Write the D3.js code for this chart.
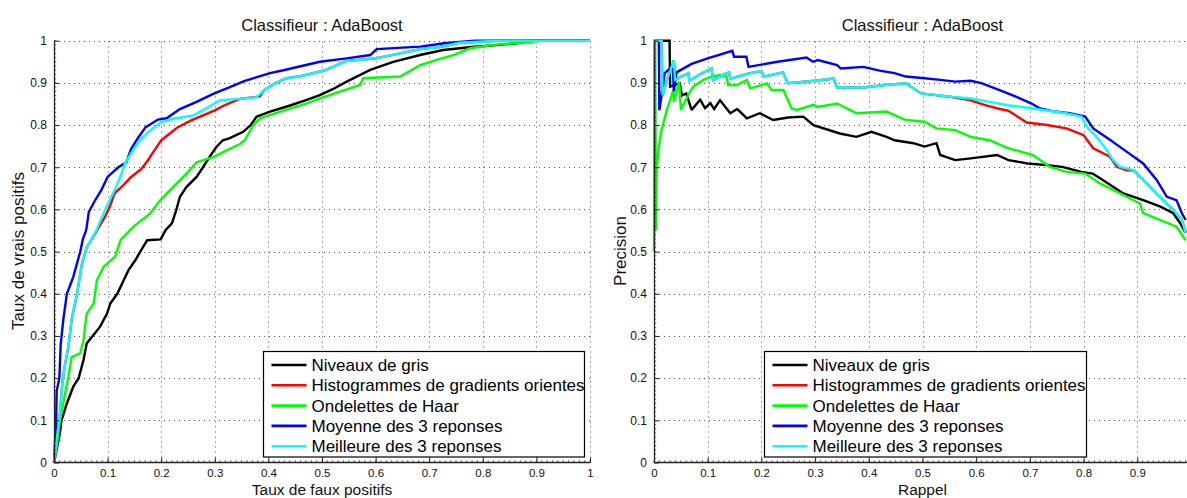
<!DOCTYPE html>
<html><head><meta charset="utf-8">
<script src="https://cdn.jsdelivr.net/npm/d3@7"></script>
<style>
body{margin:0;background:#fff;}
svg{display:block;font-family:"Liberation Sans",Arial,sans-serif;}
</style></head><body>
<svg id="chart" width="1187" height="498"></svg>
<script>
// ---------- DATA ----------
const seriesNames = ["Niveaux de gris","Histogrammes de gradients orientes","Ondelettes de Haar","Moyenne des 3 reponses","Meilleure des 3 reponses"];
const seriesColors = ["#000000","#ff0000","#00ff00","#0000ff","#00ffff"];
const xTicksLeft = [0,0.1,0.2,0.3,0.4,0.5,0.6,0.7,0.8,0.9,1];
const xTicksRight = [0,0.1,0.2,0.3,0.4,0.5,0.6,0.7,0.8,0.9];
const yTicks = [0,0.1,0.2,0.3,0.4,0.5,0.6,0.7,0.8,0.9,1];
const plotTitle = "Classifieur : AdaBoost";

// ROC curves (x: taux de faux positifs, y: taux de vrais positifs)
const rocGris = [[0,0],[0.011,0.069],[0.014,0.1],[0.024,0.14],[0.036,0.18],[0.046,0.2],[0.055,0.243],[0.061,0.282],[0.086,0.322],[0.099,0.353],[0.105,0.377],[0.118,0.4],[0.13,0.432],[0.139,0.456],[0.152,0.48],[0.161,0.5],[0.174,0.527],[0.199,0.529],[0.208,0.551],[0.22,0.567],[0.228,0.598],[0.235,0.63],[0.247,0.653],[0.266,0.677],[0.278,0.7],[0.29,0.724],[0.303,0.748],[0.315,0.764],[0.328,0.769],[0.353,0.784],[0.367,0.8],[0.378,0.82],[0.403,0.832],[0.442,0.847],[0.47,0.859],[0.496,0.871],[0.52,0.885],[0.546,0.903],[0.59,0.931],[0.633,0.95],[0.683,0.966],[0.726,0.978],[0.78,0.985],[0.83,0.99],[0.863,0.994],[0.894,1],[1,1]];
const rocHog = [[0,0],[0.005,0.053],[0.011,0.116],[0.016,0.195],[0.021,0.235],[0.027,0.275],[0.033,0.34],[0.043,0.4],[0.052,0.47],[0.061,0.51],[0.08,0.55],[0.095,0.582],[0.104,0.606],[0.113,0.638],[0.129,0.657],[0.144,0.677],[0.163,0.696],[0.175,0.716],[0.185,0.736],[0.2,0.764],[0.216,0.78],[0.231,0.795],[0.256,0.811],[0.278,0.823],[0.3,0.835],[0.318,0.847],[0.347,0.862],[0.384,0.868],[0.392,0.883],[0.414,0.9],[0.434,0.911],[0.464,0.917],[0.506,0.93],[0.546,0.952],[0.6,0.958],[0.646,0.97],[0.683,0.98],[0.72,0.985],[0.756,0.995],[0.83,1],[1,1]];
const rocHaar = [[0,0],[0.005,0.037],[0.011,0.1],[0.021,0.164],[0.027,0.203],[0.033,0.25],[0.049,0.259],[0.055,0.29],[0.061,0.353],[0.074,0.377],[0.08,0.432],[0.0925,0.464],[0.114,0.488],[0.124,0.527],[0.149,0.56],[0.179,0.59],[0.197,0.62],[0.222,0.653],[0.247,0.685],[0.266,0.712],[0.297,0.724],[0.322,0.74],[0.347,0.755],[0.356,0.764],[0.372,0.8],[0.384,0.816],[0.422,0.832],[0.47,0.851],[0.5,0.865],[0.542,0.883],[0.571,0.895],[0.577,0.911],[0.646,0.915],[0.683,0.942],[0.72,0.957],[0.745,0.966],[0.776,0.982],[0.82,0.99],[0.894,0.998],[0.91,1],[1,1]];
const rocMoyenne = [[0,0],[0.002,0.05],[0.004,0.1],[0.005,0.17],[0.01,0.2],[0.0125,0.28],[0.0175,0.34],[0.024,0.4],[0.036,0.44],[0.049,0.5],[0.054,0.53],[0.06,0.55],[0.065,0.594],[0.076,0.62],[0.088,0.645],[0.1,0.677],[0.12,0.7],[0.135,0.712],[0.144,0.744],[0.157,0.77],[0.171,0.795],[0.194,0.813],[0.21,0.816],[0.235,0.838],[0.266,0.855],[0.297,0.874],[0.328,0.89],[0.356,0.905],[0.403,0.923],[0.428,0.93],[0.496,0.95],[0.546,0.958],[0.59,0.966],[0.602,0.98],[0.683,0.986],[0.728,0.994],[0.785,1],[1,1]];
const rocMeilleure = [[0,0],[0.005,0.053],[0.011,0.116],[0.016,0.195],[0.021,0.235],[0.027,0.275],[0.033,0.34],[0.043,0.4],[0.052,0.47],[0.061,0.51],[0.079,0.55],[0.095,0.598],[0.107,0.63],[0.116,0.653],[0.126,0.685],[0.132,0.708],[0.147,0.74],[0.16,0.764],[0.179,0.787],[0.2,0.807],[0.222,0.815],[0.26,0.823],[0.284,0.84],[0.31,0.859],[0.347,0.862],[0.378,0.866],[0.392,0.883],[0.414,0.9],[0.434,0.911],[0.464,0.917],[0.506,0.93],[0.546,0.952],[0.6,0.958],[0.646,0.97],[0.683,0.98],[0.72,0.985],[0.756,0.995],[0.83,1],[1,1]];

// Precision / rappel curves (x: rappel, y: precision)
const prGris = [[0.003,1.0],[0.029,1.0],[0.03,0.891],[0.048,0.899],[0.052,0.87],[0.06,0.875],[0.07,0.836],[0.086,0.86],[0.095,0.84],[0.105,0.852],[0.112,0.838],[0.123,0.859],[0.142,0.828],[0.155,0.838],[0.173,0.816],[0.197,0.828],[0.222,0.812],[0.25,0.818],[0.278,0.82],[0.297,0.8],[0.346,0.78],[0.377,0.772],[0.405,0.784],[0.433,0.772],[0.448,0.764],[0.483,0.757],[0.504,0.749],[0.526,0.757],[0.533,0.729],[0.561,0.717],[0.59,0.721],[0.639,0.729],[0.66,0.717],[0.696,0.709],[0.732,0.705],[0.76,0.701],[0.796,0.689],[0.817,0.685],[0.845,0.662],[0.874,0.638],[0.911,0.622],[0.942,0.607],[0.967,0.591],[0.98,0.567],[0.99,0.545]];
const prHog = [[0.001,1.0],[0.014,1.0],[0.016,0.87],[0.025,0.91],[0.037,0.953],[0.039,0.907],[0.05,0.915],[0.064,0.923],[0.066,0.905],[0.085,0.92],[0.107,0.934],[0.11,0.907],[0.13,0.92],[0.14,0.925],[0.142,0.91],[0.175,0.922],[0.2,0.928],[0.205,0.915],[0.24,0.925],[0.249,0.899],[0.3,0.905],[0.334,0.91],[0.341,0.889],[0.39,0.889],[0.43,0.895],[0.469,0.899],[0.497,0.875],[0.551,0.867],[0.588,0.859],[0.62,0.846],[0.644,0.838],[0.66,0.834],[0.694,0.806],[0.732,0.8],[0.768,0.792],[0.8,0.776],[0.818,0.745],[0.849,0.725],[0.862,0.701],[0.88,0.693],[0.893,0.693],[0.917,0.662],[0.948,0.622],[0.967,0.599],[0.983,0.575],[0.99,0.545]];
const prHaar = [[0,0.5],[0.001,1.0],[0.002,1.0],[0.003,0.75],[0.0035,0.55],[0.005,0.69],[0.008,0.74],[0.014,0.788],[0.024,0.836],[0.036,0.883],[0.037,0.855],[0.047,0.903],[0.05,0.836],[0.067,0.879],[0.073,0.891],[0.092,0.907],[0.107,0.915],[0.123,0.919],[0.135,0.915],[0.138,0.895],[0.154,0.895],[0.173,0.907],[0.179,0.887],[0.21,0.899],[0.219,0.883],[0.241,0.883],[0.256,0.84],[0.266,0.836],[0.297,0.848],[0.305,0.843],[0.341,0.851],[0.377,0.828],[0.433,0.832],[0.469,0.812],[0.504,0.808],[0.526,0.792],[0.561,0.788],[0.59,0.772],[0.625,0.764],[0.66,0.745],[0.706,0.729],[0.737,0.701],[0.768,0.689],[0.803,0.685],[0.83,0.662],[0.862,0.642],[0.905,0.614],[0.911,0.591],[0.942,0.575],[0.973,0.559],[0.99,0.527]];
const prMoyenne = [[0.001,1.0],[0.009,1.0],[0.01,0.835],[0.02,0.923],[0.035,0.94],[0.037,0.88],[0.042,0.925],[0.07,0.945],[0.1,0.958],[0.146,0.976],[0.149,0.962],[0.172,0.962],[0.176,0.938],[0.23,0.95],[0.284,0.96],[0.296,0.95],[0.305,0.954],[0.341,0.942],[0.348,0.934],[0.39,0.938],[0.42,0.929],[0.448,0.923],[0.469,0.915],[0.504,0.911],[0.533,0.907],[0.561,0.903],[0.59,0.905],[0.611,0.899],[0.647,0.881],[0.675,0.867],[0.703,0.851],[0.718,0.84],[0.746,0.832],[0.774,0.828],[0.803,0.82],[0.818,0.792],[0.849,0.765],[0.88,0.737],[0.911,0.709],[0.936,0.67],[0.955,0.63],[0.973,0.622],[0.983,0.591],[0.99,0.575]];
const prMeilleure = [[0.001,1.0],[0.014,1.0],[0.016,0.87],[0.025,0.91],[0.037,0.953],[0.039,0.907],[0.05,0.915],[0.064,0.923],[0.066,0.905],[0.085,0.92],[0.107,0.934],[0.11,0.907],[0.13,0.92],[0.14,0.925],[0.142,0.91],[0.175,0.922],[0.2,0.928],[0.205,0.915],[0.24,0.925],[0.249,0.899],[0.3,0.905],[0.334,0.91],[0.341,0.889],[0.39,0.889],[0.43,0.895],[0.469,0.899],[0.497,0.875],[0.554,0.867],[0.59,0.863],[0.625,0.855],[0.66,0.847],[0.703,0.84],[0.767,0.828],[0.796,0.82],[0.806,0.796],[0.824,0.772],[0.838,0.75],[0.855,0.717],[0.868,0.701],[0.893,0.693],[0.917,0.662],[0.948,0.622],[0.967,0.599],[0.983,0.575],[0.99,0.545]];

// ---------- DRAW ----------
const svg = d3.select("#chart");
const FONT = "Liberation Sans, Arial, sans-serif";

function drawPanel(cfg){
  const x = d3.scaleLinear().domain([0,1]).range([cfg.x0, cfg.x1]);
  const y = d3.scaleLinear().domain([0,1]).range([462.5, 40.7]);
  const g = svg.append("g");
  const clipId = "clip"+cfg.id;
  svg.append("clipPath").attr("id",clipId).append("rect")
    .attr("x",cfg.x0-2).attr("y",36).attr("width",cfg.x1-cfg.x0+4).attr("height",430);

  const xr = x.range();
  // grid
  const grid = g.append("g").attr("stroke","#555").attr("stroke-width",1).attr("stroke-dasharray","1,4");
  grid.selectAll("line.v").data(cfg.xTicks.filter(d=>d>0)).join("line")
    .attr("x1",d=>Math.round(x(d))+0.5).attr("x2",d=>Math.round(x(d))+0.5)
    .attr("y1",y(0)).attr("y2",y(1));
  grid.selectAll("line.h").data(yTicks.filter(d=>d>0)).join("line")
    .attr("x1",xr[0]).attr("x2",xr[1])
    .attr("y1",d=>Math.round(y(d))+0.5).attr("y2",d=>Math.round(y(d))+0.5);

  // curves
  const line = d3.line().x(d=>x(d[0])).y(d=>y(d[1]));
  const cg = g.append("g").attr("clip-path",`url(#${clipId})`);
  cfg.series.forEach((s,i)=>{
    cg.append("path").datum(s).attr("d",line).attr("fill","none")
      .attr("stroke",seriesColors[i]).attr("stroke-width",2.4)
      .attr("stroke-linejoin","miter").attr("stroke-miterlimit",2);
  });

  // axes
  const minor = d3.range(0,101).map(d=>d/100);
  const xAxis = d3.axisBottom(x).tickValues(cfg.xTicks).tickFormat(d3.format("")).tickSizeInner(-5).tickSizeOuter(0).tickPadding(6.5);
  const ax = g.append("g").attr("transform",`translate(0,${y(0)})`).call(xAxis);
  ax.select(".domain").attr("stroke","#222").attr("stroke-width",1.3).attr("d",`M${xr[0]},0H${Math.min(xr[1],1187)}`);
  ax.selectAll(".tick line").attr("stroke","#222");
  ax.selectAll("text").attr("font-size",11.5).attr("fill","#111").attr("font-family",FONT);
  g.append("g").selectAll("line").data(minor).join("line")
    .attr("x1",d=>x(d)).attr("x2",d=>x(d)).attr("y1",y(0)).attr("y2",y(0)-2.2)
    .attr("stroke","#333").attr("stroke-width",0.8);

  const yAxis = d3.axisLeft(y).tickValues(yTicks).tickFormat(d3.format("")).tickSizeInner(-5).tickSizeOuter(0).tickPadding(7);
  const ay = g.append("g").attr("transform",`translate(${xr[0]},0)`).call(yAxis);
  ay.select(".domain").attr("stroke","#222").attr("stroke-width",1.3);
  ay.selectAll(".tick line").attr("stroke","#222");
  ay.selectAll("text").attr("font-size",12).attr("fill","#111").attr("font-family",FONT);
  g.append("g").selectAll("line").data(minor).join("line")
    .attr("x1",xr[0]).attr("x2",xr[0]+2.2).attr("y1",d=>y(d)).attr("y2",d=>y(d))
    .attr("stroke","#333").attr("stroke-width",0.8);

  // title and labels
  const cx = (cfg.x0 + cfg.x1)/2;
  svg.append("text").attr("x",cx).attr("y",31).attr("text-anchor","middle")
    .attr("font-size",16.5).attr("fill","#111").text(plotTitle);
  svg.append("text").attr("x",cx).attr("y",494.5).attr("text-anchor","middle")
    .attr("font-size",15.5).attr("fill","#111").text(cfg.xLabel);
  svg.append("text").attr("transform",`translate(${cfg.yLabelX},251) rotate(-90)`).attr("text-anchor","middle")
    .attr("font-size",17).attr("fill","#111").text(cfg.yLabel);

  // legend
  const L = cfg.legend;
  const lg = svg.append("g");
  lg.append("rect").attr("x",L.x).attr("y",351.5).attr("width",L.w).attr("height",105.5)
    .attr("fill","#fff").attr("stroke","#000").attr("stroke-width",1.2);
  seriesNames.forEach((n,i)=>{
    const yy = 365 + i*20.3;
    lg.append("line").attr("x1",L.x+8).attr("x2",L.x+43).attr("y1",yy).attr("y2",yy)
      .attr("stroke",seriesColors[i]).attr("stroke-width",2.6);
    lg.append("text").attr("x",L.x+48).attr("y",yy+6).attr("font-size",17)
      .attr("fill","#000").text(n);
  });
}

drawPanel({id:"L", x0:54, x1:590, xTicks:xTicksLeft,
  series:[rocGris,rocHog,rocHaar,rocMoyenne,rocMeilleure],
  xLabel:"Taux de faux positifs", yLabel:"Taux de vrais positifs", yLabelX:24,
  legend:{x:263.5, w:321}});
drawPanel({id:"R", x0:654, x1:1191, xTicks:xTicksRight,
  series:[prGris,prHog,prHaar,prMoyenne,prMeilleure],
  xLabel:"Rappel", yLabel:"Precision", yLabelX:626,
  legend:{x:764.5, w:322}});
</script>
</body></html>
